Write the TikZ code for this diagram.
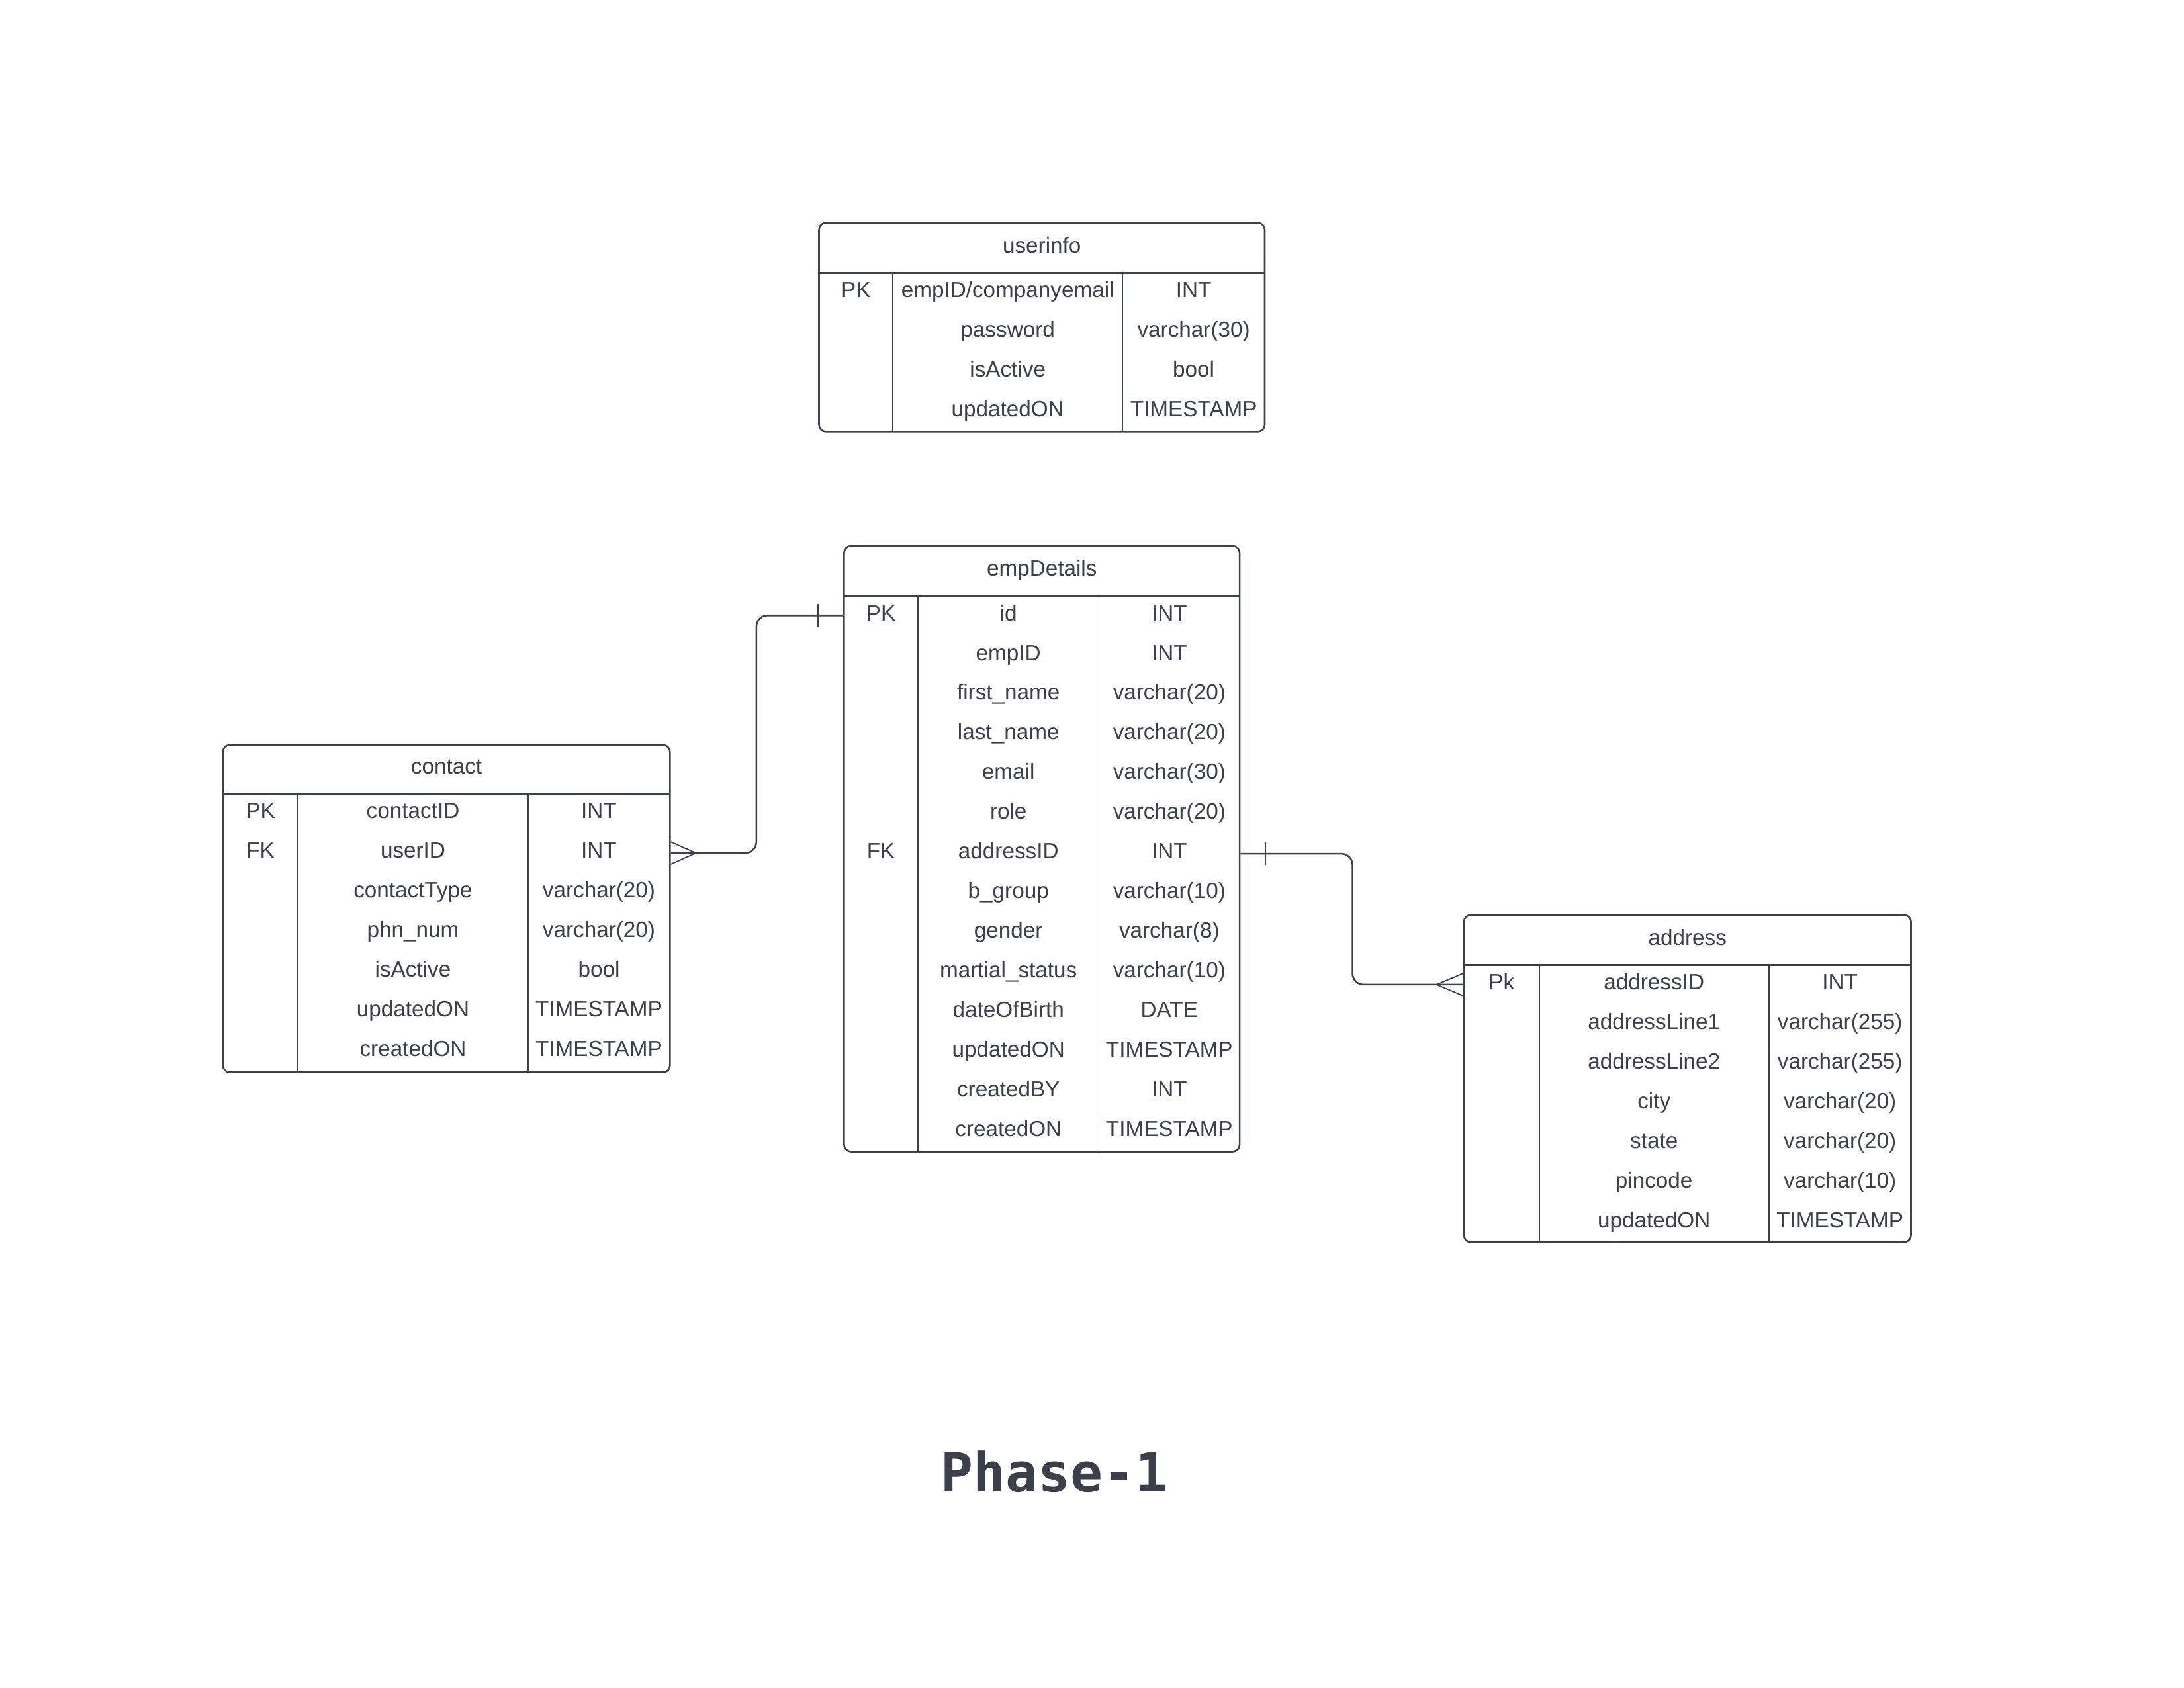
\documentclass[tikz,border=0pt]{standalone}
\usepackage{fontspec}
\setmainfont{Liberation Sans}
\newfontfamily\titlefont{DejaVu Sans Mono}
\usetikzlibrary{calc,fit}
\definecolor{inkgray}{RGB}{59,64,74}

\begin{document}
\begin{tikzpicture}
	[x=0.02cm,y=-0.02cm,color=inkgray,line width=0.7pt]
	\tikzstyle{every node}=[inner sep=0pt, text height=6.5pt, text depth=0pt, font=\fontsize{9}{11}\selectfont]
	\tikzstyle{frame}=[draw, rounded corners=0.1cm, line width=0.7pt]
	\tikzstyle{colline}=[line width=0.5pt]
	\tikzstyle{conn}=[line width=0.7pt, rounded corners=0.16cm]
	\tikzstyle{ermark}=[line width=0.5pt]
	\useasboundingbox (0,0) rectangle (1568,1212);

	% userinfo
	\node[frame, fit={(588,160) (908,310)}] (userinfo) {};
	\node (userinfo-h) at (748,176) {userinfo};
	\draw (588,196) -- (908,196);
	\draw[colline] (641,196) -- (641,310);
	\draw[colline] (806,196) -- (806,310);
	\foreach \k/\n/\t [count=\i from 0] in {PK/empID\slash companyemail/INT, /password/varchar(30), /isActive/bool, /updatedON/TIMESTAMP}
	{
		\node (usr-k\i) at (614.5,208+28.5*\i) {\k};
		\node (usr-n\i) at (723.5,208+28.5*\i) {\n};
		\node (usr-t\i) at (857,208+28.5*\i) {\t};
	}

	% empDetails
	\node[frame, fit={(606,392) (890,827)}] (empDetails) {};
	\node (empDetails-h) at (748,408) {empDetails};
	\draw (606,428) -- (890,428);
	\draw[colline] (659,428) -- (659,827);
	\draw[colline] (789,428) -- (789,827);
	\foreach \k/\n/\t [count=\i from 0] in {PK/id/INT, /empID/INT, /first\_name/varchar(20), /last\_name/varchar(20), /email/varchar(30), /role/varchar(20), FK/addressID/INT, /b\_group/varchar(10), /gender/varchar(8), /martial\_status/varchar(10), /dateOfBirth/DATE, /updatedON/TIMESTAMP, /createdBY/INT, /createdON/TIMESTAMP}
	{
		\node (emp-k\i) at (632.5,440+28.5*\i) {\k};
		\node (emp-n\i) at (724,440+28.5*\i) {\n};
		\node (emp-t\i) at (839.5,440+28.5*\i) {\t};
	}

	% contact
	\node[frame, fit={(160,535) (481,770)}] (contact) {};
	\node (contact-h) at (320.5,550) {contact};
	\draw (160,570) -- (481,570);
	\draw[colline] (214,570) -- (214,770);
	\draw[colline] (379,570) -- (379,770);
	\foreach \k/\n/\t [count=\i from 0] in {PK/contactID/INT, FK/userID/INT, /contactType/varchar(20), /phn\_num/varchar(20), /isActive/bool, /updatedON/TIMESTAMP, /createdON/TIMESTAMP}
	{
		\node (con-k\i) at (187,582+28.5*\i) {\k};
		\node (con-n\i) at (296.5,582+28.5*\i) {\n};
		\node (con-t\i) at (430,582+28.5*\i) {\t};
	}

	% address
	\node[frame, fit={(1051,657) (1372,892)}] (address) {};
	\node (address-h) at (1211.5,673) {address};
	\draw (1051,693) -- (1372,693);
	\draw[colline] (1105,693) -- (1105,892);
	\draw[colline] (1270,693) -- (1270,892);
	\foreach \k/\n/\t [count=\i from 0] in {Pk/addressID/INT, /addressLine1/varchar(255), /addressLine2/varchar(255), /city/varchar(20), /state/varchar(20), /pincode/varchar(10), /updatedON/TIMESTAMP}
	{
		\node (adr-k\i) at (1078,705+28.5*\i) {\k};
		\node (adr-n\i) at (1187.5,705+28.5*\i) {\n};
		\node (adr-t\i) at (1321,705+28.5*\i) {\t};
	}

	% relations
	\coordinate (r1a) at ($(empDetails.west |- emp-n0)+(0,2)$);
	\coordinate (r1b) at ($(contact.east |- con-n1)+(0,2)$);
	\draw[conn] (r1a) -| (543,520) |- (r1b);
	\draw[ermark] ($(r1a)+(-18,-8)$) -- ++(0,16);
	\draw[ermark] ($(r1b)+(0,-8)$) -- ++(18,8) -- ++(-18,8);

	\coordinate (r2a) at ($(empDetails.east |- emp-n6)+(0,2)$);
	\coordinate (r2b) at ($(address.west |- adr-n0)+(0,2)$);
	\draw[conn] (r2a) -| (971,660) |- (r2b);
	\draw[ermark] ($(r2a)+(18,-8)$) -- ++(0,16);
	\draw[ermark] ($(r2b)+(0,-8)$) -- ++(-19,8) -- ++(19,8);

	\node[font=\titlefont\bfseries\fontsize{22}{26}\selectfont, text height=16pt] (title) at (757,1057) {Phase-1};
\end{tikzpicture}
\end{document}
